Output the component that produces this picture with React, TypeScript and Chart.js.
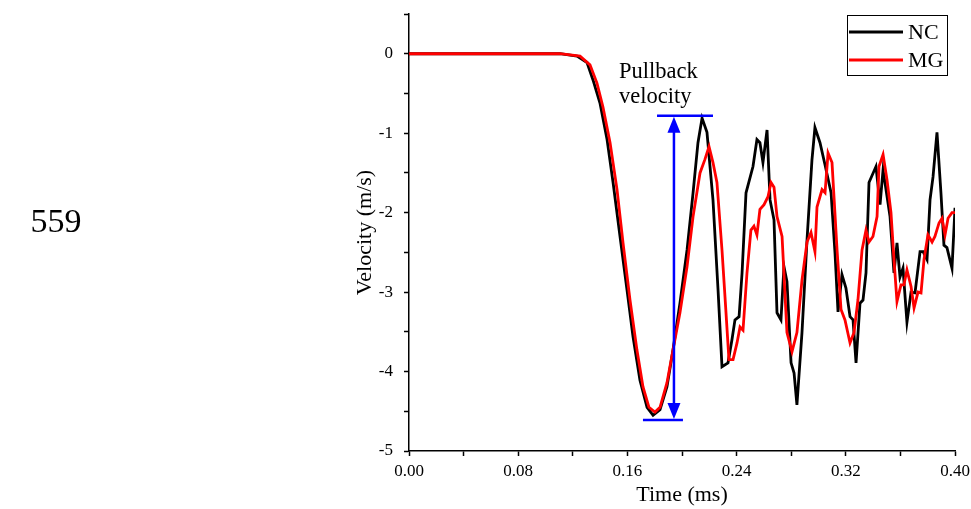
import React, { useEffect, useRef } from "react";
import { Chart, registerables } from "chart.js";

Chart.register(...registerables);

// ---------- data ----------
const ncTime = [0, 0.1106, 0.1231, 0.1304, 0.1348, 0.1399, 0.1451, 0.1495, 0.1546, 0.1597, 0.1641, 0.1692, 0.1744, 0.1788, 0.1839, 0.1890, 0.1934, 0.1985, 0.2037, 0.2081, 0.2117, 0.2147, 0.2183, 0.2227, 0.2264, 0.2293, 0.2337, 0.2366, 0.2388, 0.2418, 0.2440, 0.2469, 0.2520, 0.2549, 0.2571, 0.2593, 0.2623, 0.2645, 0.2674, 0.2696, 0.2725, 0.2747, 0.2769, 0.2799, 0.2821, 0.2842, 0.2879, 0.2916, 0.2952, 0.2974, 0.3011, 0.3048, 0.3092, 0.3121, 0.3143, 0.3172, 0.3201, 0.3231, 0.3253, 0.3275, 0.3304, 0.3326, 0.3348, 0.3370, 0.3421, 0.3451, 0.3473, 0.3524, 0.3553, 0.3575, 0.3597, 0.3619, 0.3648, 0.3678, 0.3707, 0.3744, 0.3766, 0.3795, 0.3817, 0.3839, 0.3868, 0.3897, 0.3919, 0.3941, 0.3978, 0.4000];
const ncVelocity = [0, 0, -0.03, -0.11, -0.33, -0.62, -1.08, -1.62, -2.30, -2.97, -3.56, -4.11, -4.45, -4.55, -4.48, -4.19, -3.73, -3.14, -2.47, -1.75, -1.12, -0.81, -0.99, -1.84, -2.97, -3.94, -3.89, -3.60, -3.35, -3.31, -2.76, -1.75, -1.42, -1.08, -1.12, -1.37, -0.96, -1.84, -2.09, -3.26, -3.35, -2.68, -2.87, -3.89, -4.02, -4.42, -3.51, -2.34, -1.34, -0.93, -1.12, -1.40, -1.75, -2.51, -3.25, -2.78, -2.95, -3.31, -3.35, -3.89, -3.14, -3.10, -2.76, -1.62, -1.42, -1.90, -1.46, -2.05, -2.76, -2.38, -2.81, -2.70, -3.38, -3.00, -3.01, -2.49, -2.49, -2.59, -1.84, -1.55, -0.99, -1.75, -2.41, -2.44, -2.70, -1.94];

const mgTime = [0, 0.1106, 0.1253, 0.1326, 0.1377, 0.1421, 0.1473, 0.1524, 0.1568, 0.1619, 0.1670, 0.1714, 0.1758, 0.1802, 0.1839, 0.1890, 0.1934, 0.1985, 0.2037, 0.2081, 0.2132, 0.2168, 0.2198, 0.2227, 0.2256, 0.2293, 0.2315, 0.2344, 0.2374, 0.2403, 0.2425, 0.2447, 0.2476, 0.2505, 0.2527, 0.2549, 0.2571, 0.2601, 0.2630, 0.2652, 0.2674, 0.2696, 0.2733, 0.2769, 0.2806, 0.2842, 0.2879, 0.2916, 0.2945, 0.2974, 0.2989, 0.3026, 0.3048, 0.3070, 0.3099, 0.3136, 0.3165, 0.3194, 0.3231, 0.3260, 0.3289, 0.3319, 0.3348, 0.3370, 0.3399, 0.3429, 0.3443, 0.3473, 0.3502, 0.3531, 0.3553, 0.3575, 0.3604, 0.3626, 0.3648, 0.3678, 0.3700, 0.3729, 0.3751, 0.3773, 0.3802, 0.3832, 0.3853, 0.3883, 0.3905, 0.3927, 0.3949, 0.3978, 0.4000];
const mgVelocity = [0, 0, -0.03, -0.14, -0.37, -0.67, -1.12, -1.71, -2.38, -3.10, -3.73, -4.19, -4.45, -4.51, -4.45, -4.14, -3.73, -3.26, -2.68, -2.05, -1.50, -1.33, -1.17, -1.37, -1.62, -2.47, -3.06, -3.85, -3.85, -3.64, -3.44, -3.48, -2.76, -2.22, -2.17, -2.28, -1.96, -1.90, -1.80, -1.62, -1.68, -2.05, -2.30, -3.51, -3.75, -3.51, -2.85, -2.37, -2.25, -2.49, -1.93, -1.71, -1.75, -1.25, -1.37, -2.47, -3.22, -3.35, -3.64, -3.51, -3.10, -2.47, -2.22, -2.37, -2.30, -2.05, -1.42, -1.27, -1.59, -2.00, -2.59, -3.12, -2.91, -2.91, -2.72, -2.93, -3.20, -3.00, -3.01, -2.59, -2.28, -2.37, -2.30, -2.13, -2.07, -2.28, -2.07, -2.00, -2.00];

const seriesLabels = ["NC", "MG"];
const xTickLabels = [0, 0.08, 0.16, 0.24, 0.32, 0.4];
const yTickLabels = [0, -1, -2, -3, -4, -5];

// pullback velocity annotation (data space)
const pullbackTime = 0.1941;
const pullbackTop = -0.78;
const pullbackBottom = -4.61;
const pullbackTopBar = [0.1817, 0.2227];
const pullbackBottomBar = [0.1714, 0.2007];
const annotationLines = ["Pullback", "velocity"];
const annotationTime = 0.1538;
const annotationVelocity = [-0.30, -0.62];
const sideLabel = "559";

const FONT = '"Liberation Serif", "Times New Roman", Times, serif';

const overlayPlugin = {
  id: "overlay",
  afterDatasetsDraw(chart: any) {
    const { ctx, chartArea } = chart;
    const x = chart.scales.x;
    const y = chart.scales.y;
    ctx.save();

    // annotation arrow
    const ax = x.getPixelForValue(pullbackTime);
    const yt = y.getPixelForValue(pullbackTop);
    const yb = y.getPixelForValue(pullbackBottom);
    ctx.strokeStyle = "#0000FF";
    ctx.fillStyle = "#0000FF";
    ctx.lineWidth = 2.5;
    ctx.beginPath();
    ctx.moveTo(x.getPixelForValue(pullbackTopBar[0]), yt);
    ctx.lineTo(x.getPixelForValue(pullbackTopBar[1]), yt);
    ctx.moveTo(x.getPixelForValue(pullbackBottomBar[0]), yb);
    ctx.lineTo(x.getPixelForValue(pullbackBottomBar[1]), yb);
    ctx.moveTo(ax, yt + 12);
    ctx.lineTo(ax, yb - 12);
    ctx.stroke();
    ctx.beginPath();
    ctx.moveTo(ax, yt + 1);
    ctx.lineTo(ax - 6.5, yt + 17);
    ctx.lineTo(ax + 6.5, yt + 17);
    ctx.closePath();
    ctx.fill();
    ctx.beginPath();
    ctx.moveTo(ax, yb - 1);
    ctx.lineTo(ax - 6.5, yb - 17);
    ctx.lineTo(ax + 6.5, yb - 17);
    ctx.closePath();
    ctx.fill();

    // annotation text
    ctx.fillStyle = "#000";
    ctx.font = `22.5px ${FONT}`;
    ctx.textAlign = "left";
    ctx.textBaseline = "alphabetic";
    annotationLines.forEach((s, i) => {
      ctx.fillText(s, x.getPixelForValue(annotationTime), y.getPixelForValue(annotationVelocity[i]));
    });

    // legend
    const bw = 100;
    const bh = 60;
    const bx = chartArea.right - 108;
    const by = chartArea.top + 1;
    ctx.strokeStyle = "#000";
    ctx.lineWidth = 1;
    ctx.strokeRect(bx + 0.5, by + 0.5, bw, bh);
    chart.data.datasets.forEach((ds: any, i: number) => {
      const ly = by + 17 + i * 28;
      ctx.strokeStyle = ds.borderColor;
      ctx.lineWidth = 3;
      ctx.beginPath();
      ctx.moveTo(bx + 2, ly);
      ctx.lineTo(bx + 56, ly);
      ctx.stroke();
      ctx.fillStyle = "#000";
      ctx.font = `22px ${FONT}`;
      ctx.textAlign = "left";
      ctx.textBaseline = "middle";
      ctx.fillText(ds.label, bx + 61, ly + 1);
    });

    // side label
    ctx.fillStyle = "#000";
    ctx.font = `34px ${FONT}`;
    ctx.textAlign = "center";
    ctx.textBaseline = "middle";
    ctx.fillText(sideLabel, 56, 223);

    ctx.restore();
  },
};

export default function App() {
  const canvasRef = useRef<HTMLCanvasElement | null>(null);

  useEffect(() => {
    const canvas = canvasRef.current;
    if (!canvas) return;
    const chart = new Chart(canvas, {
      type: "line",
      data: {
        datasets: [
          {
            label: seriesLabels[0],
            data: ncTime.map((t, i) => ({ x: t, y: ncVelocity[i] })),
            borderColor: "#000000",
            borderWidth: 2.8,
            pointRadius: 0,
            tension: 0,
            fill: false,
            order: 1,
          },
          {
            label: seriesLabels[1],
            data: mgTime.map((t, i) => ({ x: t, y: mgVelocity[i] })),
            borderColor: "#FF0000",
            borderWidth: 2.8,
            pointRadius: 0,
            tension: 0,
            fill: false,
            order: 0,
          },
        ],
      },
      options: {
        animation: false,
        responsive: false,
        devicePixelRatio: 1,
        layout: { padding: { left: 340, right: 16, top: 14, bottom: 0 } },
        plugins: {
          legend: { display: false },
          tooltip: { enabled: false },
        },
        scales: {
          x: {
            type: "linear",
            min: 0,
            max: 0.4,
            afterFit: (scale: any) => {
              scale.height = 58;
              scale.paddingLeft = 0;
              scale.paddingRight = 0;
            },
            border: { display: true, color: "#000", width: 1.5 },
            grid: {
              drawOnChartArea: false,
              drawTicks: true,
              tickLength: 5,
              tickColor: "#000",
              tickWidth: 1.5,
            },
            ticks: {
              stepSize: 0.04,
              autoSkip: false,
              maxRotation: 0,
              padding: 5,
              color: "#000",
              font: { family: FONT, size: 17 },
              callback: (value: any) => {
                const v = Number(value);
                return xTickLabels.some((t) => Math.abs(t - v) < 1e-6) ? v.toFixed(2) : "";
              },
            },
            title: {
              display: true,
              text: "Time (ms)",
              color: "#000",
              font: { family: FONT, size: 22 },
              padding: { top: 0, bottom: 1 },
            },
          },
          y: {
            type: "linear",
            min: -5,
            max: 0.5,
            afterFit: (scale: any) => {
              scale.width = 69;
              scale.paddingTop = 0;
              scale.paddingBottom = 0;
            },
            border: { display: true, color: "#000", width: 1.5 },
            grid: {
              drawOnChartArea: false,
              drawTicks: true,
              tickLength: 5,
              tickColor: "#000",
              tickWidth: 1.5,
            },
            ticks: {
              stepSize: 0.5,
              autoSkip: false,
              padding: 11,
              color: "#000",
              font: { family: FONT, size: 17 },
              callback: (value: any) => {
                const v = Number(value);
                return yTickLabels.some((t) => Math.abs(t - v) < 1e-6) ? String(Math.round(v)) : "";
              },
            },
            title: {
              display: true,
              text: "Velocity (m/s)",
              color: "#000",
              font: { family: FONT, size: 22 },
              padding: { top: 12, bottom: 0 },
            },
          },
        },
      },
      plugins: [overlayPlugin],
    });
    return () => chart.destroy();
  }, []);

  return (
    <div style={{ position: "absolute", left: 0, top: 0, width: 971, height: 509, background: "#fff" }}>
      <canvas ref={canvasRef} width={971} height={509} style={{ display: "block" }} />
    </div>
  );
}
